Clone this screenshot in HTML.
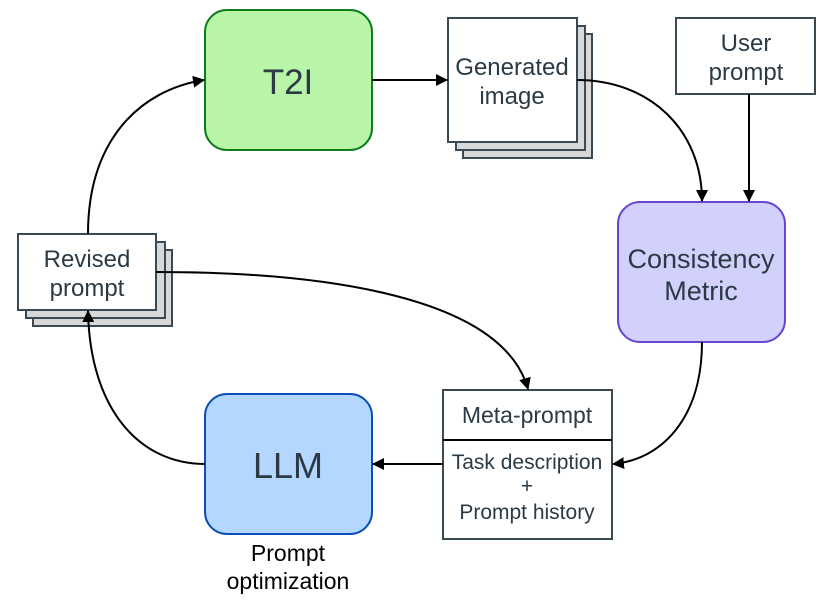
<!DOCTYPE html>
<html><head><style>
body{margin:0;background:#fff;}
text{font-family:"Liberation Sans",sans-serif;fill:#2b3a44;}
</style></head><body>
<svg width="830" height="609" viewBox="0 0 830 609" xmlns="http://www.w3.org/2000/svg">
<defs><marker id="a" markerWidth="12" markerHeight="12" refX="11" refY="6" orient="auto" markerUnits="userSpaceOnUse"><path d="M0,0 L12,6 L0,12 z" fill="#000"/></marker></defs>
<rect x="205" y="10" width="167" height="140" rx="22" fill="#b9f5a9" stroke="#0a7d1a" stroke-width="2"/>
<text x="288" y="94" font-size="35" text-anchor="middle">T2I</text>
<g stroke="#3a4a55" stroke-width="2" fill="#d8d8d8">
<rect x="463" y="34" width="129" height="124"/>
<rect x="456" y="26" width="129" height="124"/>
<rect x="448" y="18" width="129" height="124" fill="#fff"/>
<rect x="676" y="18" width="139" height="76" fill="#fff"/>
<rect x="33" y="250" width="139" height="76"/>
<rect x="26" y="242" width="139" height="76"/>
<rect x="18" y="234" width="138" height="76" fill="#fff"/>
<rect x="443" y="390" width="169" height="149" fill="#fff"/>
</g>
<line x1="443" y1="440" x2="612" y2="440" stroke="#000" stroke-width="2"/>
<text x="512" y="75" font-size="24" text-anchor="middle">Generated</text>
<text x="512" y="104" font-size="24" text-anchor="middle">image</text>
<text x="746" y="51" font-size="24" text-anchor="middle">User</text>
<text x="746" y="80" font-size="24" text-anchor="middle">prompt</text>
<text x="87" y="267" font-size="24" text-anchor="middle">Revised</text>
<text x="87" y="296" font-size="24" text-anchor="middle">prompt</text>
<rect x="618" y="202" width="167" height="140" rx="22" fill="#d1d1fc" stroke="#6a45d0" stroke-width="2"/>
<text x="701" y="268" font-size="27" text-anchor="middle">Consistency</text>
<text x="701" y="300" font-size="27" text-anchor="middle">Metric</text>
<rect x="205" y="394" width="167" height="140" rx="22" fill="#b3d7ff" stroke="#0a4fb5" stroke-width="2"/>
<text x="288" y="478" font-size="36" text-anchor="middle">LLM</text>
<text x="527" y="423" font-size="23" text-anchor="middle">Meta-prompt</text>
<text x="527" y="469" font-size="21" text-anchor="middle">Task description</text>
<text x="527" y="493" font-size="21" text-anchor="middle">+</text>
<text x="527" y="519" font-size="21" text-anchor="middle">Prompt history</text>
<text x="288" y="561" font-size="23" text-anchor="middle" style="fill:#000">Prompt</text>
<text x="288" y="589" font-size="23" text-anchor="middle" style="fill:#000">optimization</text>
<g stroke="#000" stroke-width="2" fill="none" marker-end="url(#a)">
<path d="M372,80 L447,80"/>
<path d="M577,80 C650,80 702,130 702,201"/>
<path d="M749,94 L749,201"/>
<path d="M702,342 C702,420 660,460 613,464"/>
<path d="M443,464 L373,464"/>
<path d="M205,464 C140,464 90,410 88,311"/>
<path d="M88,234 C88,140 140,90 204,80"/>
<path d="M156,272 C300,272 500,290 528,389"/>
</g>
</svg>
</body></html>
